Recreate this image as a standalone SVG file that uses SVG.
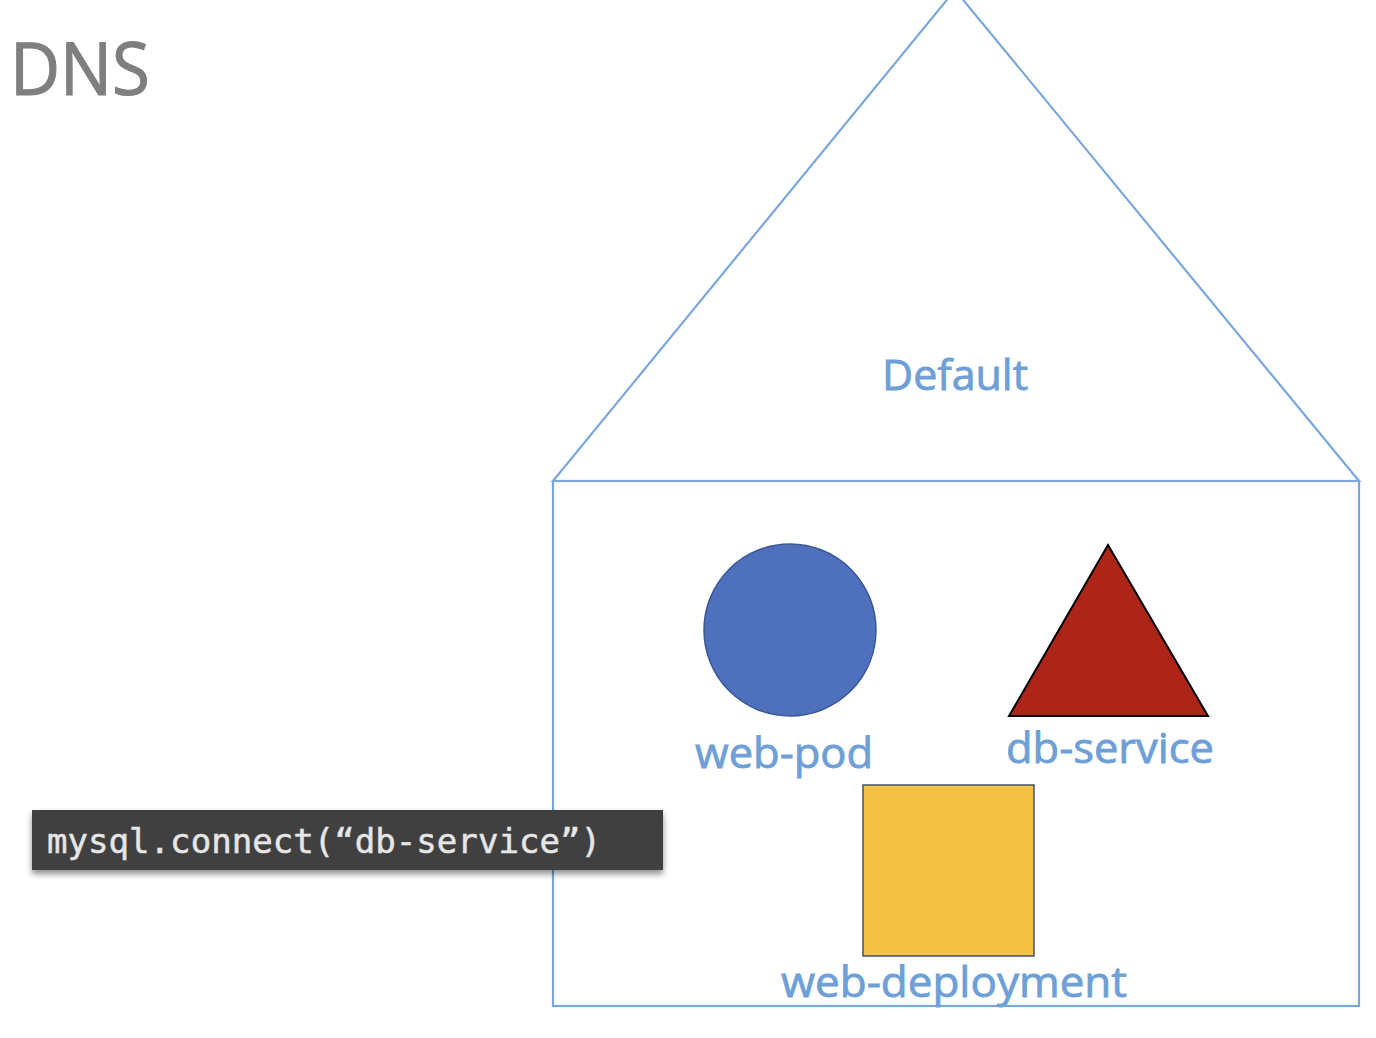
<svg xmlns="http://www.w3.org/2000/svg" width="1376" height="1038" viewBox="0 0 1376 1038">
<defs>
<style>
.house{fill:none;stroke:#7ba7da;stroke-width:2.2}
.lbl{font-family:"Open Sans","Liberation Sans",sans-serif;fill:#6e9fd6;stroke:#6e9fd6;stroke-width:0.8;font-size:42px}
.code{font-family:"DejaVu Sans Mono","Liberation Mono",monospace;fill:#e6e6e6;stroke:#e6e6e6;stroke-width:0.5;font-size:34px}
</style>
<filter id="sh" x="-5%" y="-20%" width="110%" height="160%">
<feDropShadow dx="0" dy="4" stdDeviation="3" flood-color="#000" flood-opacity="0.45"/>
</filter>
</defs>
<rect width="1376" height="1038" fill="#fff"/>
<text x="10" y="95" font-family="'Open Sans','Liberation Sans',sans-serif" font-size="74" fill="#7f7f7f" stroke="#7f7f7f" stroke-width="1.2" textLength="140" lengthAdjust="spacingAndGlyphs">DNS</text>
<g id="namespace-default">
<polygon class="house" points="553,481 955,-10 1359,481"/>
<rect class="house" x="553" y="481" width="806" height="525"/>
<text class="lbl" x="955" y="390" text-anchor="middle" textLength="146" lengthAdjust="spacingAndGlyphs">Default</text>
</g>
<g id="web-pod">
<circle cx="790" cy="630" r="86" fill="#4f71bd" stroke="#3a5792" stroke-width="1.5"/>
<text class="lbl" x="695" y="768" textLength="178" lengthAdjust="spacingAndGlyphs">web-pod</text>
</g>
<g id="db-service">
<polygon points="1108,545 1009,716 1208,716" fill="#ad2418" stroke="#000" stroke-width="2"/>
<text class="lbl" x="1006" y="763" textLength="208" lengthAdjust="spacingAndGlyphs">db-service</text>
</g>
<g id="web-deployment">
<rect x="863" y="785" width="171" height="171" fill="#f3c242" stroke="#44546a" stroke-width="1.5"/>
<text class="lbl" x="781" y="997" textLength="346" lengthAdjust="spacingAndGlyphs">web-deployment</text>
</g>
<g id="code">
<rect x="32" y="810" width="631" height="60" fill="#3f3f3f" filter="url(#sh)"/>
<text class="code" x="47" y="853" textLength="554" lengthAdjust="spacingAndGlyphs">mysql.connect(“db-service”)</text>
</g>
<g id="connectors"></g>
</svg>
